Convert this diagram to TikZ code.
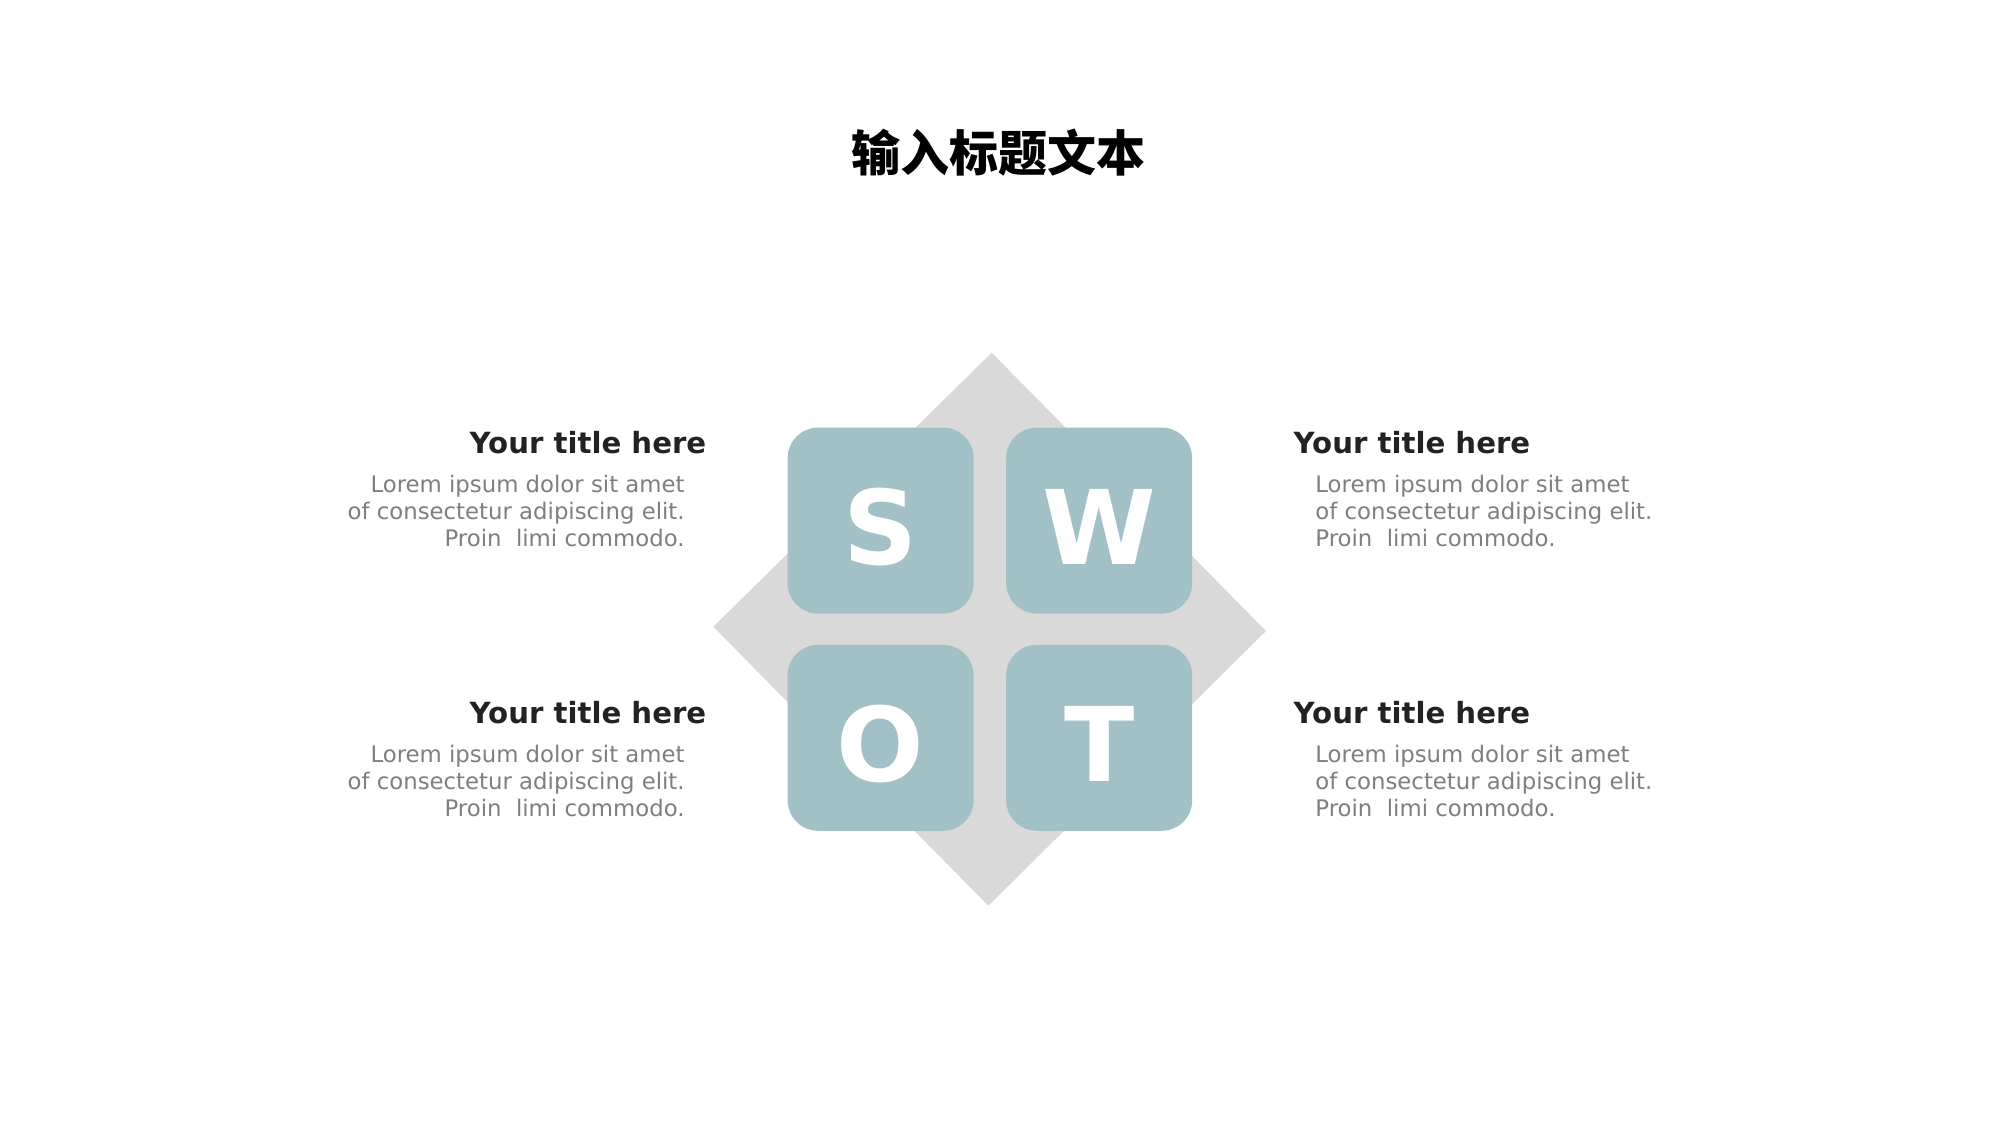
\documentclass[tikz,border=0pt]{standalone}
\usepackage{fontspec}
\setmainfont{DejaVu Sans}
\newfontfamily\cjk{Noto Sans CJK SC}
\definecolor{teal}{HTML}{A1C1C6}
\definecolor{diam}{HTML}{D9D9D9}
\definecolor{ttl}{HTML}{222222}
\definecolor{bod}{HTML}{7F7F7F}
\tikzset{
  swotbox/.style={fill=teal, draw=none, rounded corners=15.3pt, minimum width=93pt, minimum height=93pt,
    inner sep=0pt, text=white, font=\fontsize{51.5}{60}\selectfont\bfseries, text height=43.5pt, text depth=0pt},
  blocktitle/.style={inner sep=0pt, text=ttl, font=\fontsize{14.6}{18}\selectfont\bfseries},
  blockbody/.style={inner sep=0pt, text=bod, font=\fontsize{11.4}{13.65}\selectfont},
}
\begin{document}
\begin{tikzpicture}[x=0.5pt,y=-0.5pt]
\useasboundingbox[fill=white] (0,0) rectangle (2000,1125);
\node[anchor=base, inner sep=0pt, font=\cjk\bfseries\fontsize{24.5}{28}\selectfont] (title) at (998,171.5) {输入标题文本};
\fill[diam] (991.7,352.7) -- (1266,631) -- (988.3,905.7) -- (713.3,626.7) -- cycle;
\node[swotbox] (S) at (880.6,520.6) {S};
\node[swotbox] (W) at (1099.2,520.6) {W};
\node[swotbox] (O) at (880.6,737.8) {O};
\node[swotbox] (T) at (1099.2,737.8) {T};
\node[blocktitle, anchor=base east] (t1) at (706.7,453.3) {Your title here};
\node[blocktitle, anchor=base west] (t2) at (1293.3,453.3) {Your title here};
\node[blocktitle, anchor=base east] (t3) at (706.7,723.3) {Your title here};
\node[blocktitle, anchor=base west] (t4) at (1293.3,723.3) {Your title here};
\node[blockbody, align=right, anchor=base east] (b1) at (685,546.7) {Lorem ipsum dolor sit amet\\of consectetur adipiscing elit.\\Proin\ \ limi commodo.};
\node[blockbody, align=left, anchor=base west] (b2) at (1315,546.7) {Lorem ipsum dolor sit amet\\of consectetur adipiscing elit.\\Proin\ \ limi commodo.};
\node[blockbody, align=right, anchor=base east] (b3) at (685,816.7) {Lorem ipsum dolor sit amet\\of consectetur adipiscing elit.\\Proin\ \ limi commodo.};
\node[blockbody, align=left, anchor=base west] (b4) at (1315,816.7) {Lorem ipsum dolor sit amet\\of consectetur adipiscing elit.\\Proin\ \ limi commodo.};
\end{tikzpicture}
\end{document}
